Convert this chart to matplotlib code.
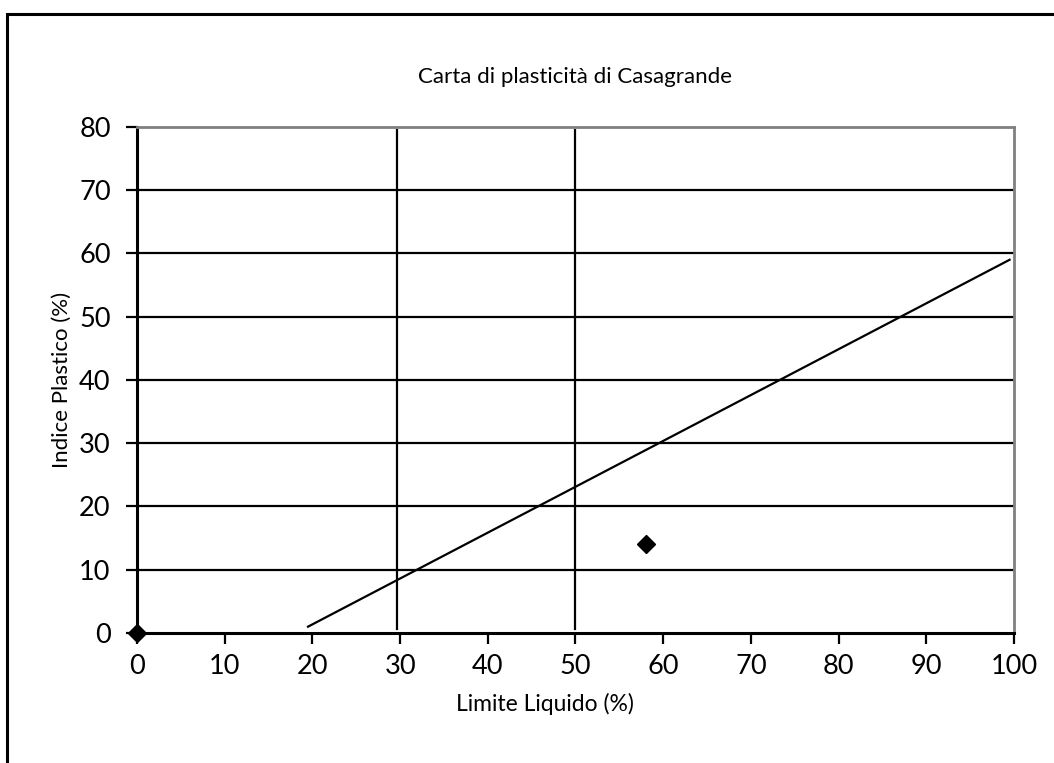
import matplotlib.pyplot as plt
from matplotlib.patches import Rectangle

# Casagrande plasticity chart: sample points, A-line and LL boundaries
ll_samples = [0, 58]
pi_samples = [0, 14]

a_line_ll = [19.5, 99.5]
a_line_pi = [1.0, 59.0]

boundary_low_ll = [29.6, 29.6]
boundary_high_ll = [49.9, 49.9]
boundary_pi = [0.7, 79.5]

x_ticks = list(range(0, 101, 10))
y_ticks = list(range(0, 81, 10))

plt.rcParams['font.family'] = ['Lato', 'DejaVu Sans']

fig = plt.figure(figsize=(10.54, 7.63), dpi=100)
ax = fig.add_axes([0.130, 0.1704, 0.832, 0.6632])

# outer chart frame
fig.patches.append(Rectangle((7 / 1054, -0.2), 1.2, 0.2 + 1 - 14 / 763,
                             transform=fig.transFigure, fill=False,
                             edgecolor='black', linewidth=2.2))

for y in y_ticks[1:-1]:
    ax.axhline(y, color='black', linewidth=1.6, zorder=1)

ax.plot(boundary_low_ll, boundary_pi, color='black', linewidth=1.6)
ax.plot(boundary_high_ll, boundary_pi, color='black', linewidth=1.6)
ax.plot(a_line_ll, a_line_pi, color='black', linewidth=1.6)
ax.plot(ll_samples, pi_samples, linestyle='none', marker='D',
        markersize=9, color='black', clip_on=False, zorder=5)

ax.set_xlim(0, 100)
ax.set_ylim(0, 80)
ax.set_xticks(x_ticks)
ax.set_yticks(y_ticks)
ax.tick_params(axis='both', direction='out', length=8, width=1.6,
               labelsize=19.5)
ax.tick_params(axis='x', pad=7)
ax.tick_params(axis='y', pad=11)

for side in ['left', 'bottom']:
    ax.spines[side].set_linewidth(2.2)
    ax.spines[side].set_color('black')
for side in ['top', 'right']:
    ax.spines[side].set_linewidth(2)
    ax.spines[side].set_color('#808080')

ax.set_xlabel('Limite Liquido (%)', fontsize=16.5, va='center')
ax.set_ylabel('Indice Plastico (%)', fontsize=16, va='center')
ax.xaxis.set_label_coords(0.465, -0.140)
ax.yaxis.set_label_coords(-0.0855, 0.5)
fig.text(0.5 * (417 + 733) / 1054, 1 - 77 / 763,
         'Carta di plasticità di Casagrande', fontsize=16,
         ha='center', va='center')

fig.savefig('out.png', dpi=100)
